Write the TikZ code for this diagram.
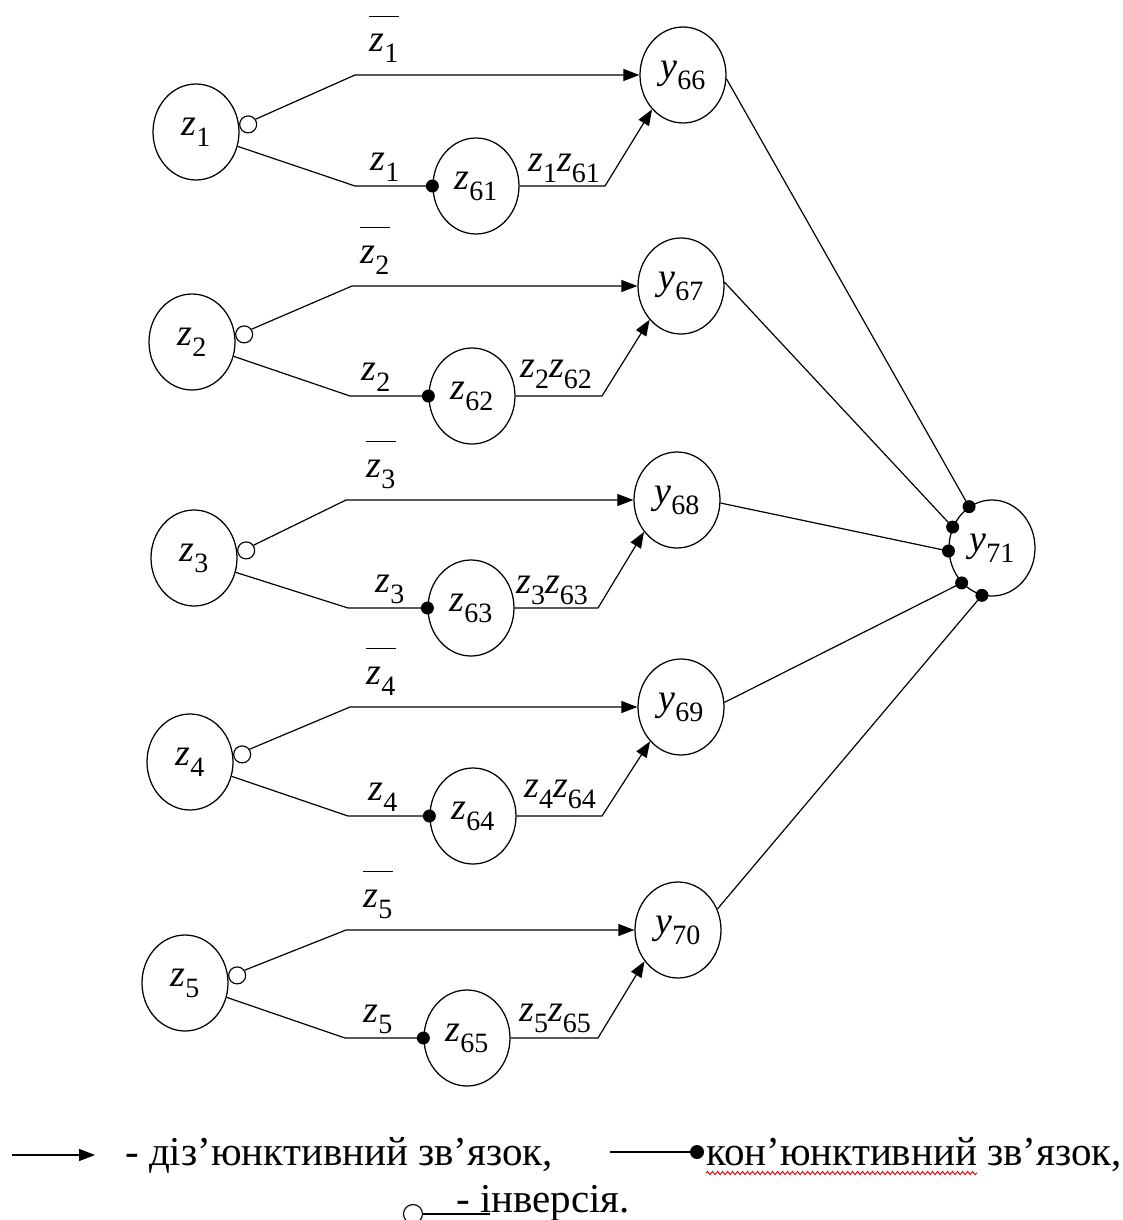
\documentclass[tikz,border=0pt]{standalone}
\usepackage{fontspec}
\setmainfont{Liberation Serif}
\usetikzlibrary{shapes.geometric,arrows.meta,decorations.pathmorphing}

% variable with an upright subscript
\newcommand\sv[2]{\textit{#1}\raisebox{-11pt}{\fontsize{28pt}{30pt}\selectfont #2}}
\newcommand\labfont{\fontsize{38pt}{42pt}\selectfont}
\newcommand\legfont{\fontsize{41pt}{44pt}\selectfont}

\begin{document}
\begin{tikzpicture}[x=1pt,y=-1pt,
  state/.style={ellipse, draw, line width=1.25pt, minimum width=86pt,
    minimum height=96pt, inner sep=0pt, font=\labfont},
  inv/.style={circle, draw, fill=white, line width=1.15pt, minimum size=17pt, inner sep=0pt},
  dot/.style={circle, fill=black, minimum size=13pt, inner sep=0pt},
  wire/.style={line width=1.2pt},
  arr/.style={wire, -{Triangle[length=16pt,width=12pt]}},
  lbl/.style={inner sep=0pt, font=\labfont},
  legtext/.style={inner sep=0pt, font=\legfont, anchor=base west}]

\useasboundingbox (0,0) rectangle (1122,1220);

% five input branches: z_r, the conjunction node z_{60+r} and the disjunction node y_{65+r}
\foreach \r/\zx/\zy/\wx/\wy/\yx/\yy/\ub/\lb/\rb/\ea/\bx/\lx/\px/\pd in {
  1/196/132/476/186/683/75/355/355/605/228/384/385/564/15,
  2/192/342/472/396/681/286/352/350/602/227/375/376/556/19,
  3/194/558/471/608/677/500/346/348/598/224/381/390/552/15,
  4/190/762/473/816/681/707/350/348/602/228/381/383/560/19,
  5/185/983/467/1038/678/930/346/345/598/223/378/378/555/17}{
  \pgfmathtruncatemacro\k{60+\r}
  \pgfmathtruncatemacro\m{65+\r}
  \node[state] (z\r) at (\zx,\zy) {\sv{z}{\r}};
  \node[state] (w\r) at (\wx,\wy) {\sv{z}{\k}};
  \node[state] (y\r) at (\yx,\yy) {\sv{y}{\m}};
  \node[inv, anchor=west] (i\r) at (z\r.10) {};
  \node[dot] (d\r) at (w\r.west) {};
  \coordinate (u\r) at (\ub,\yy);
  \coordinate (l\r) at (\lb,\wy);
  \coordinate (r\r) at (\rb,\wy);
  \draw[arr] (i\r.35) -- (u\r) -- (y\r.west);
  \draw[wire] (z\r.-19) -- (l\r) -- (d\r.center);
  \draw[arr] (w\r.east) -- (r\r) -- (y\r.\ea);
  % labels of the branches
  \node[lbl, anchor=base] (nb\r) at (\bx,\yy-23) {\sv{z}{\r}};
  \draw[wire] ([yshift=18pt]nb\r.north west) -- ([yshift=18pt]nb\r.north east);
  \node[lbl, anchor=base] (nl\r) at (\lx,\wy-16) {\sv{z}{\r}};
  \node[lbl, anchor=base] (np\r) at (\px,\wy-\pd) {\sv{z}{\r}\sv{z}{\k}};
}

% output conjunction node
\node[state] (y71) at (992,548) {\sv{y}{71}};
\foreach \r/\a/\s in {1/119/-5, 2/152/5, 3/184/-4, 4/229/6, 5/258/28}{
  \node[dot] (c\r) at (y71.\a) {};
  \draw[wire] (y\r.\s) -- (c\r.center);
}

% legend
\coordinate (la) at (12,1155);
\coordinate (lb) at (95,1155);
\draw[arr] (la) -- (lb);
\node[legtext] (t1) at (125,1165) {- діз’юнктивний зв’язок,};
\coordinate (lc) at (610,1152);
\node[dot, minimum size=14pt] (ld) at (697,1152) {};
\draw[wire] (lc) -- (ld.center);
\node[legtext] (t2) at (706,1165) {кон’юнктивний зв’язок,};
\node[legtext, inner sep=0pt] (t2a) at (706,1165) {\phantom{кон’юнктивний}};
\draw[red!90!black, line width=0.9pt, decorate,
  decoration={snake, amplitude=1.6pt, segment length=5pt}]
  ([yshift=-8pt]t2a.base west) -- ([yshift=-8pt]t2a.base east);
\node[inv, minimum size=19pt] (li) at (413,1214) {};
\node[legtext] (t3) at (456,1212) {- інверсія.};
\coordinate (le) at (490,1214);
\draw[wire] (li.east) -- (le);
\end{tikzpicture}
\end{document}
